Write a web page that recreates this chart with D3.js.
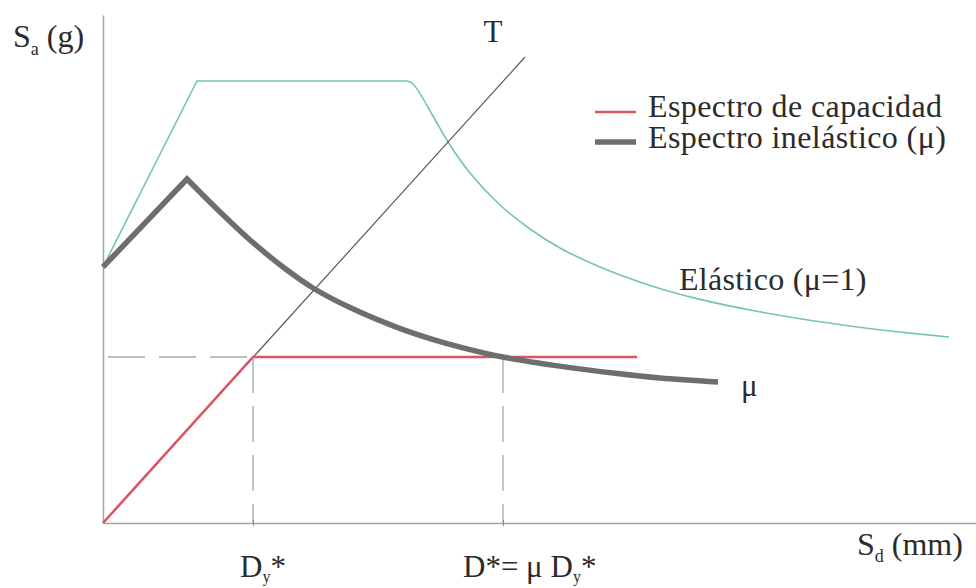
<!DOCTYPE html>
<html>
<head>
<meta charset="utf-8">
<script src="https://cdn.jsdelivr.net/npm/d3@7"></script>
<style>
  html, body { margin: 0; padding: 0; background: #fff; }
  svg { display: block; font-family: "Liberation Serif", "Times New Roman", serif; }
  text { fill: #2b2b2b; }
</style>
</head>
<body>
<svg id="chart" width="976" height="588"></svg>
<script>
// Spectral displacement Sd (mm) and spectral acceleration Sa (g)

// Elastic demand spectrum (mu = 1)
const elasticSd = [0, 18.8, 60.8, 62, 66, 69, 73.4, 79.4, 85.4, 91.4, 99.4, 109.4, 119.4, 129.4, 139.4, 149.4, 159.4, 169.2];
const elasticSa = [0.64, 1.105, 1.105, 1.0975, 1.0175, 0.9525, 0.875, 0.795, 0.735, 0.6875, 0.64, 0.594, 0.559, 0.5325, 0.5105, 0.4925, 0.4775, 0.465];
// number of leading points joined by straight segments (ramp + plateau)
const elasticLinearCount = 3;

// Inelastic demand spectrum (mu)
const inelasticSd = [0, 16.8, 22.8, 29.4, 36, 42, 49.4, 58.8, 65.4, 72, 80, 92, 102, 111.4, 123];
const inelasticSa = [0.64, 0.86, 0.785, 0.7075, 0.64, 0.5875, 0.5385, 0.489, 0.461, 0.438, 0.415, 0.391, 0.375, 0.3625, 0.3525];
const inelasticLinearCount = 2;

// Bilinear capacity spectrum
const capacitySd = [0, 30, 106.8];
const capacitySa = [0, 0.415, 0.415];

// Period line T through the origin
const periodSd = [0, 84.4];
const periodSa = [0, 1.165];

// Yield displacement and performance displacement
const dyStar = 30;
const dStar = 80;
const saYield = 0.415;
const tickValues = [dyStar, dStar];

const legendLabels = ["Espectro de capacidad", "Espectro inelástico (μ)"];

const svg = d3.select("#chart");

const x = d3.scaleLinear().domain([0, 175]).range([103, 978]);
const y = d3.scaleLinear().domain([0, 1.27]).range([523, 15]);

const zip = (xs, ys) => xs.map((v, i) => [v, ys[i]]);

const lineLinear = d3.line().x(d => x(d[0])).y(d => y(d[1]));
const lineSmooth = d3.line().x(d => x(d[0])).y(d => y(d[1])).curve(d3.curveCatmullRom.alpha(0.5));

// straight segments first, then a smooth descending branch
function piecewisePath(pts, nLinear) {
  const head = pts.slice(0, nLinear);
  const tail = pts.slice(nLinear - 1);
  return lineLinear(head) + lineSmooth(tail).replace(/^M/, "L");
}

// Axes
const xAxis = d3.axisBottom(x).tickValues(tickValues).tickSizeInner(3).tickSizeOuter(0).tickFormat("");
const gx = svg.append("g").attr("transform", `translate(0,${y(0)})`).call(xAxis);
gx.select(".domain").attr("stroke", "#a3a3a3").attr("stroke-width", 1.5);
gx.selectAll(".tick line").attr("y1", -3).attr("y2", 3).attr("stroke", "#8a8a8a");

const yAxis = d3.axisLeft(y).tickValues([]).tickSizeOuter(0);
const gy = svg.append("g").attr("transform", `translate(${x(0)},0)`).call(yAxis);
gy.select(".domain").attr("stroke", "#a3a3a3").attr("stroke-width", 1.5);

// Guide lines at the yield and performance points
svg.append("path")
  .attr("d", lineLinear([[1, saYield], [dyStar, saYield]]))
  .attr("fill", "none").attr("stroke", "#a8a8a8").attr("stroke-width", 1.6)
  .attr("stroke-dasharray", "37 14");
[dyStar, dStar].forEach(v => {
  svg.append("path")
    .attr("d", lineLinear([[v, saYield], [v, 0]]))
    .attr("fill", "none").attr("stroke", "#8c8c8c").attr("stroke-width", 1)
    .attr("stroke-dasharray", "36 13");
});

// Elastic spectrum
svg.append("path")
  .attr("d", piecewisePath(zip(elasticSd, elasticSa), elasticLinearCount))
  .attr("fill", "none").attr("stroke", "#74c4b1").attr("stroke-width", 1.6);

// Period line T
svg.append("path")
  .attr("d", lineLinear(zip(periodSd, periodSa)))
  .attr("fill", "none").attr("stroke", "#5a5a5a").attr("stroke-width", 1.2);

// Capacity spectrum
svg.append("path")
  .attr("d", lineLinear(zip(capacitySd, capacitySa)))
  .attr("fill", "none").attr("stroke", "#dc5563").attr("stroke-width", 2.6);

// Inelastic spectrum
svg.append("path")
  .attr("d", piecewisePath(zip(inelasticSd, inelasticSa), inelasticLinearCount))
  .attr("fill", "none").attr("stroke", "#6e6e6e").attr("stroke-width", 5.5)
  .attr("stroke-linejoin", "miter");

// Legend
const legend = svg.append("g").attr("transform", "translate(595,0)");
legend.append("line").attr("x1", 0).attr("x2", 41).attr("y1", 112).attr("y2", 112)
  .attr("stroke", "#dc5563").attr("stroke-width", 2.6);
legend.append("line").attr("x1", 0).attr("x2", 41).attr("y1", 142).attr("y2", 142)
  .attr("stroke", "#6e6e6e").attr("stroke-width", 5.5);
const legendText = legend.append("text").attr("font-size", 32).attr("letter-spacing", 0.4);
legendText.selectAll("tspan").data(legendLabels).join("tspan")
  .attr("x", 53).attr("y", (d, i) => 117 + i * 31).text(d => d);

// Axis titles
const saTitle = svg.append("text").attr("x", 13).attr("y", 47).attr("font-size", 32);
saTitle.append("tspan").text("S");
saTitle.append("tspan").attr("font-size", 18).attr("dy", 8).text("a");
saTitle.append("tspan").attr("dy", -8).text(" (g)");

const sdTitle = svg.append("text").attr("x", 857).attr("y", 555).attr("font-size", 32);
sdTitle.append("tspan").text("S");
sdTitle.append("tspan").attr("font-size", 18).attr("dy", 7).text("d");
sdTitle.append("tspan").attr("dy", -7).text(" (mm)");

// Curve labels
svg.append("text").attr("x", x(periodSd[1]) - 32).attr("y", 42).attr("font-size", 31)
  .attr("text-anchor", "middle").text("T");
svg.append("text").attr("x", 679).attr("y", 290).attr("font-size", 32).attr("letter-spacing", 0.3)
  .text("Elástico (μ=1)");
svg.append("text").attr("x", x(inelasticSd[inelasticSd.length - 1]) + 23).attr("y", 396)
  .attr("font-size", 31).text("μ");

// Displacement tick labels
const dyLabel = svg.append("text").attr("x", x(dyStar) - 13).attr("y", 577).attr("font-size", 31);
dyLabel.append("tspan").text("D");
dyLabel.append("tspan").attr("font-size", 16).attr("dy", 5).text("y");
dyLabel.append("tspan").attr("dy", -5).text("*");

const dLabel = svg.append("text").attr("x", x(dStar) - 40).attr("y", 577).attr("font-size", 31);
dLabel.append("tspan").text("D*= μ D");
dLabel.append("tspan").attr("font-size", 16).attr("dy", 5).text("y");
dLabel.append("tspan").attr("dy", -5).text("*");
</script>
</body>
</html>
